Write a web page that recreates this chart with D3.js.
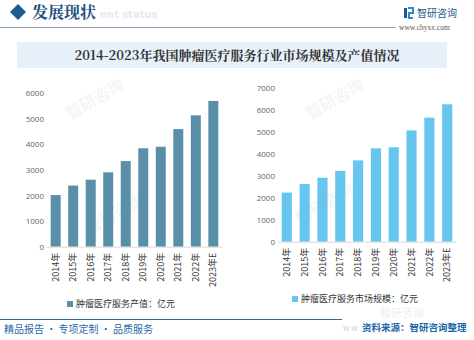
<!DOCTYPE html>
<html><head><meta charset="utf-8">
<script src="https://cdn.jsdelivr.net/npm/d3@7"></script>
<style>
html,body{margin:0;padding:0;background:#fff;}
svg{display:block;}
</style></head>
<body>
<svg id="c" width="474" height="340"></svg>
<script>
const years = ["2014年","2015年","2016年","2017年","2018年","2019年","2020年","2021年","2022年","2023年E"];
const outputValue = [2020, 2390, 2620, 2910, 3350, 3850, 3910, 4600, 5140, 5700];
const marketSize = [2240, 2630, 2920, 3230, 3710, 4260, 4310, 5080, 5660, 6270];
const leftTicks = [0,1000,2000,3000,4000,5000,6000];
const rightTicks = [0,1000,2000,3000,4000,5000,6000,7000];
const titleText = "2014-2023年我国肿瘤医疗服务行业市场规模及产值情况";
const leftLegend = "肿瘤医疗服务产值：亿元";
const rightLegend = "肿瘤医疗服务市场规模：亿元";

const svg = d3.select("#c");
const cn = "'Noto Sans CJK SC','Noto Sans',sans-serif";
const serif = "'Noto Serif CJK SC','Noto Sans CJK SC',serif";

// faint watermarks (behind everything)
const wm = svg.append("g").attr("fill","#f3f6f9");
[[70,120],[90,235],[310,120],[300,225]].forEach(([x,y])=>{
  wm.append("text").attr("x",x).attr("y",y).attr("transform",`rotate(-30,${x},${y})`)
    .attr("font-family",cn).attr("font-size",16).attr("font-weight","bold").text("智研咨询");
});

// header
svg.append("path").attr("d","M10,12 L18,4 L26,12 L18,20 Z").attr("fill","#1d5a8e");
svg.append("text").attr("x",32).attr("y",18).attr("font-family",serif).attr("font-weight","bold")
  .attr("font-size",16).attr("fill","#1f4f7e").text("发展现状");
svg.append("text").attr("x",100).attr("y",18).attr("font-family","'DejaVu Sans',sans-serif").attr("font-weight","bold")
  .attr("font-size",10).attr("fill","#e6eaef").text("ent status");
svg.append("line").attr("x1",0).attr("x2",396).attr("y1",27.5).attr("y2",27.5).attr("stroke","#8aa6c1").attr("stroke-width",1);
// logo
svg.append("rect").attr("x",404).attr("y",8).attr("width",3).attr("height",10).attr("fill","#1d5a8e");
svg.append("path").attr("d","M408,8 h5 v5 h-4 v5 h4").attr("fill","none").attr("stroke","#2a8ad0").attr("stroke-width",2);
svg.append("text").attr("x",417).attr("y",17).attr("font-family",cn).attr("font-size",10).attr("fill","#1d5a8e").text("智研咨询");
svg.append("text").attr("x",399).attr("y",30).attr("font-family","'Liberation Serif',serif").attr("font-size",7.5).attr("fill","#555").text("www.chyxx.com");

// title band
svg.append("rect").attr("x",17).attr("y",42).attr("width",430).attr("height",26).attr("fill","#e8f1fa");
svg.append("text").attr("x",237).attr("y",60).attr("text-anchor","middle").attr("font-family",serif)
  .attr("font-weight","bold").attr("font-size",13).attr("fill","#333").text(titleText);

function chart(cfg){
  const g = svg.append("g");
  const x = d3.scaleBand().domain(years).range([cfg.x0, cfg.x1]).paddingInner(0.43).paddingOuter(0.21);
  const y = d3.scaleLinear().domain([0, cfg.max]).range([cfg.y0, cfg.yTop]);
  const ax = g.append("g").attr("transform",`translate(${cfg.x0 - 3},0)`)
    .call(d3.axisLeft(y).tickValues(cfg.ticks).tickFormat(d3.format("d")).tickSize(0).tickPadding(0));
  ax.select(".domain").remove();
  ax.selectAll("text").attr("font-family","'Open Sans','Noto Sans',sans-serif").attr("font-size",8).attr("fill","#666");
  g.selectAll("rect.bar").data(cfg.values).join("rect").attr("class","bar")
    .attr("x",(d,i)=>x(years[i])).attr("width",x.bandwidth())
    .attr("y",d=>y(d)).attr("height",d=>cfg.y0 - y(d)).attr("fill",cfg.color);
  g.append("line").attr("x1",cfg.x0).attr("x2",cfg.x1).attr("y1",cfg.y0+0.5).attr("y2",cfg.y0+0.5).attr("stroke","#d9d9d9");
  const xa = g.append("g").attr("transform",`translate(0,${cfg.y0})`).call(d3.axisBottom(x).tickSize(0).tickPadding(0));
  xa.select(".domain").remove();
  xa.selectAll("text").attr("transform","rotate(-90)").attr("text-anchor","end")
    .attr("x",-6).attr("y",0).attr("dy","0.35em")
    .attr("font-family",cn).attr("font-size",9).attr("fill","#333");
  g.append("rect").attr("x",cfg.lx).attr("y",cfg.ly-6).attr("width",6).attr("height",6).attr("fill",cfg.color);
  g.append("text").attr("x",cfg.lx+9).attr("y",cfg.ly).attr("font-family",cn).attr("font-size",9).attr("fill","#333").text(cfg.legend);
}

chart({x0:47, x1:222, y0:246.7, yTop:93.3, max:6000, ticks:leftTicks, values:outputValue, color:"#5a8fa9", lx:67, ly:307, legend:leftLegend});
chart({x0:278, x1:456, y0:241.7, yTop:88.3, max:7000, ticks:rightTicks, values:marketSize, color:"#66c6ef", lx:292, ly:302, legend:rightLegend});

// footer
svg.append("text").attr("x",380).attr("y",317).attr("font-family",cn).attr("font-size",11).attr("fill","#eceff2").text("智研咨询");
svg.append("line").attr("x1",0).attr("x2",342).attr("y1",319.5).attr("y2",319.5).attr("stroke","#2c6aa0").attr("stroke-width",1);
svg.append("text").attr("x",343).attr("y",331).attr("font-family",cn).attr("font-size",8).attr("fill","#c9d3dd").text("w w");
svg.append("text").attr("x",362).attr("y",331).attr("font-family",cn).attr("font-size",9.5).attr("font-weight","bold").attr("fill","#2166a8").text("资料来源：智研咨询整理");
svg.append("text").attr("x",4).attr("y",333).attr("font-family",cn).attr("font-size",10).attr("fill","#2b6aa6").text("精品报告 · 专项定制 · 品质服务");
</script>
</body></html>
